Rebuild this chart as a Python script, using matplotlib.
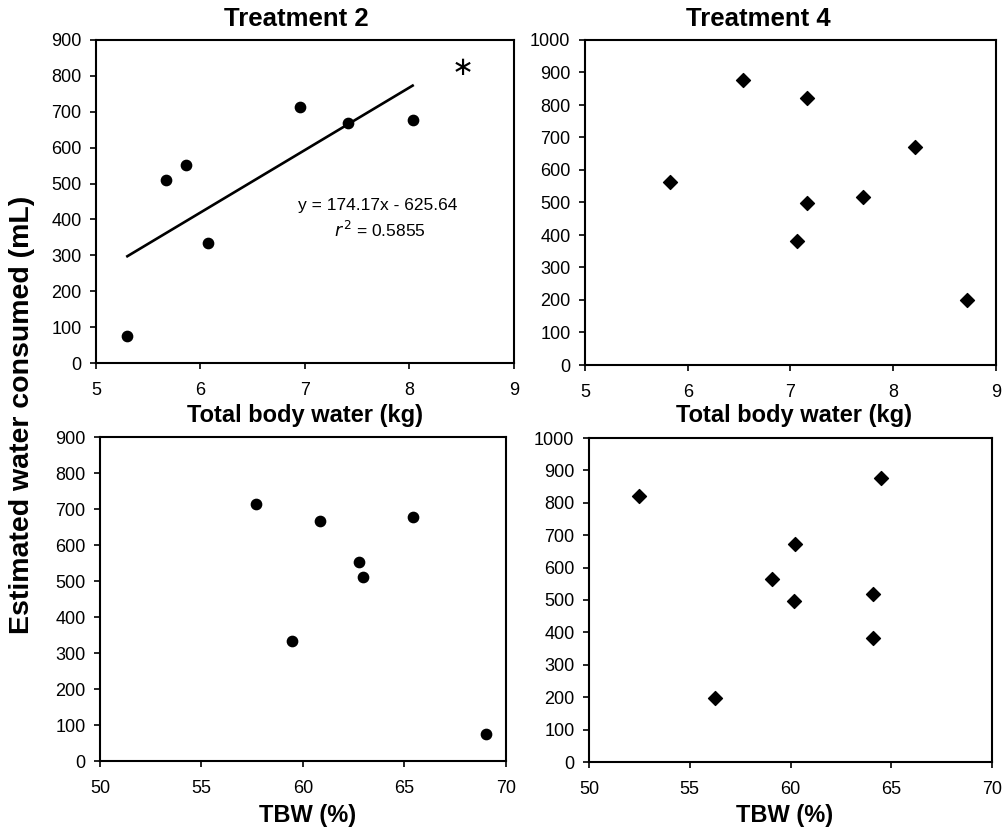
import numpy as np
import matplotlib
matplotlib.use('Agg')
import matplotlib.pyplot as plt

plt.rcParams['font.family'] = ['Liberation Sans', 'DejaVu Sans']

# Treatment 2 (circles)
t2_tbw_kg = [5.30, 5.67, 5.86, 6.07, 6.95, 7.41, 8.03]
t2_water = [74, 511, 552, 334, 714, 668, 678]
t2_tbw_pct = [69.0, 62.96, 62.78, 59.47, 57.70, 60.86, 65.44]
t2_slope, t2_icept = 174.17, -625.64

# Treatment 4 (diamonds)
t4_tbw_kg = [5.83, 6.54, 7.16, 8.21, 7.71, 7.16, 7.06, 8.72]
t4_water = [564, 877, 821, 672, 518, 497, 383, 199]
t4_tbw_pct = [59.10, 64.50, 52.47, 60.21, 64.07, 60.16, 64.10, 56.23]

W, H = 1003, 830


def px_axes(fig, left, right, top, bottom):
    return fig.add_axes([left / W, (H - bottom) / H, (right - left) / W, (bottom - top) / H])


def style(ax, xlim, xstep, ylim):
    ax.set_xlim(*xlim)
    ax.set_ylim(*ylim)
    ax.set_xticks(np.arange(xlim[0], xlim[1] + 0.01, xstep))
    ax.set_yticks(np.arange(ylim[0], ylim[1] + 1, 100))
    ax.tick_params(direction='out', length=4.5, width=1.2, labelsize=13, pad=6)
    ax.tick_params(axis='x', pad=9)
    ax.tick_params(top=False, right=False)
    for s in ax.spines.values():
        s.set_linewidth(1.5)


fig = plt.figure(figsize=(W / 100, H / 100), dpi=100)

ax1 = px_axes(fig, 96, 514, 40, 363)
ax2 = px_axes(fig, 585, 996, 40, 365)
ax3 = px_axes(fig, 100, 506, 437, 761)
ax4 = px_axes(fig, 589, 992, 438, 762)

# top left: treatment 2 vs TBW kg, with regression line
ax1.scatter(t2_tbw_kg, t2_water, s=55, color='black', zorder=3)
xl = np.array([min(t2_tbw_kg), max(t2_tbw_kg)])
ax1.plot(xl, t2_slope * xl + t2_icept, color='black', lw=1.9)
ax1.text(7.7, 440, 'y = 174.17x - 625.64', ha='center', va='center', fontsize=12.5)
ax1.text(7.72, 370, '$\\it{r}$$^{\\,2}$ = 0.5855', ha='center', va='center', fontsize=12.5)
ax1.text(8.5, 822, '$\\ast$', ha='center', va='center', fontsize=19,
         family='DejaVu Sans')
style(ax1, (5, 9), 1, (0, 900))

ax2.scatter(t4_tbw_kg, t4_water, s=50, marker='D', color='black', zorder=3)
style(ax2, (5, 9), 1, (0, 1000))

ax3.scatter(t2_tbw_pct, t2_water, s=55, color='black', zorder=3)
style(ax3, (50, 70), 5, (0, 900))

ax4.scatter(t4_tbw_pct, t4_water, s=50, marker='D', color='black', zorder=3)
style(ax4, (50, 70), 5, (0, 1000))


# titles and labels placed in figure pixels
def ftext(x, y, s, **kw):
    fig.text(x / W, (H - y) / H, s, ha='center', va='center', fontweight='bold', **kw)


ftext(296, 19, 'Treatment 2', fontsize=18.5)
ftext(758, 19, 'Treatment 4', fontsize=18.5)
ftext(305, 415, 'Total body water (kg)', fontsize=17)
ftext(794, 415, 'Total body water (kg)', fontsize=17)
ftext(308, 815, 'TBW (%)', fontsize=17)
ftext(785, 815, 'TBW (%)', fontsize=17)
ftext(22, 415, 'Estimated water consumed (mL)', fontsize=20.5, rotation=90)

fig.savefig('out.png', dpi=100)
